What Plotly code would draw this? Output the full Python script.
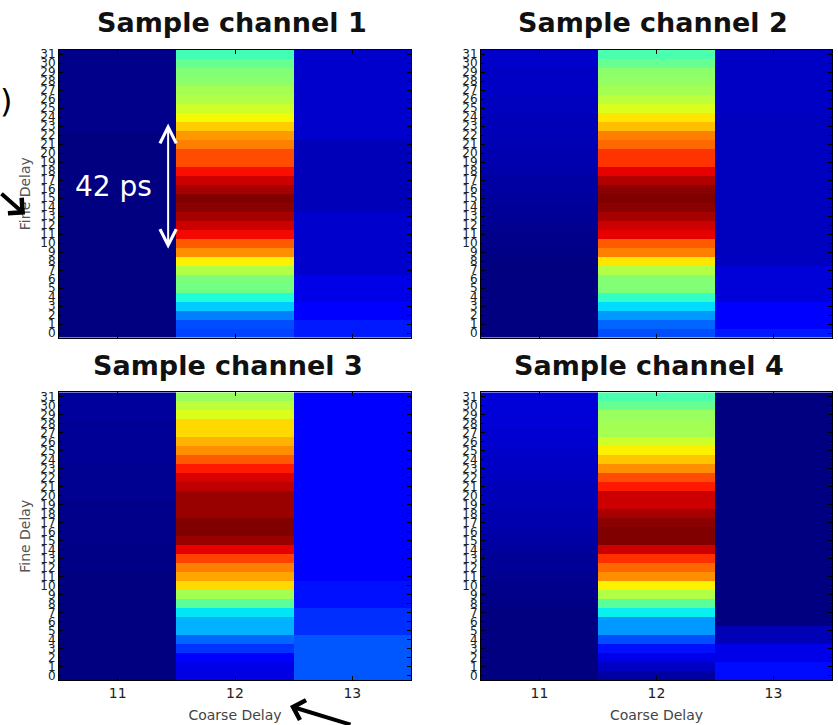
import numpy as np
import plotly.graph_objects as go

W, H = 838, 725

coarse_delay = [11, 12, 13]
fine_delay = list(range(32))

# Normalised hit rate per sample channel, one list per coarse-delay column,
# ordered by fine delay 0 .. 31.
ch1_c11 = [0.00, 0.00, 0.00, 0.00, 0.00, 0.00, 0.00, 0.00, 0.00, 0.00, 0.00, 0.00, 0.00, 0.00, 0.00, 0.00,
           0.00, 0.00, 0.00, 0.00, 0.00, 0.00, 0.00, 0.01, 0.01, 0.01, 0.01, 0.01, 0.01, 0.01, 0.01, 0.01]
ch1_c12 = [0.19, 0.20, 0.25, 0.325, 0.385, 0.49, 0.50, 0.565, 0.655, 0.76, 0.815, 0.90, 0.934, 0.967, 0.99, 1.00,
           0.967, 0.934, 0.895, 0.83, 0.83, 0.775, 0.748, 0.694, 0.645, 0.60, 0.565, 0.55, 0.52, 0.505, 0.475, 0.43]
ch1_c13 = [0.15, 0.15, 0.12, 0.12, 0.09, 0.09, 0.09, 0.066, 0.066, 0.066, 0.066, 0.066, 0.066, 0.066, 0.05, 0.05,
           0.05, 0.05, 0.05, 0.05, 0.05, 0.05, 0.066, 0.066, 0.066, 0.066, 0.066, 0.066, 0.066, 0.066, 0.066, 0.066]

ch2_c11 = [0.00, 0.00, 0.00, 0.00, 0.00, 0.00, 0.00, 0.00, 0.00, 0.005, 0.01, 0.01, 0.015, 0.02, 0.02, 0.025,
           0.03, 0.03, 0.035, 0.04, 0.04, 0.045, 0.045, 0.05, 0.05, 0.055, 0.055, 0.06, 0.06, 0.06, 0.065, 0.065]
ch2_c12 = [0.20, 0.225, 0.275, 0.34, 0.41, 0.505, 0.51, 0.565, 0.667, 0.775, 0.815, 0.912, 0.934, 0.967, 0.99, 1.00,
           0.99, 0.956, 0.912, 0.856, 0.856, 0.80, 0.775, 0.708, 0.667, 0.615, 0.58, 0.55, 0.53, 0.52, 0.475, 0.44]
ch2_c13 = [0.15, 0.12, 0.12, 0.12, 0.077, 0.077, 0.077, 0.077, 0.055, 0.055, 0.055, 0.055, 0.055, 0.055, 0.055, 0.055,
           0.055, 0.055, 0.055, 0.055, 0.055, 0.055, 0.055, 0.055, 0.055, 0.06, 0.06, 0.06, 0.06, 0.06, 0.06, 0.06]

ch3_c11 = [0.00, 0.00, 0.00, 0.00, 0.00, 0.00, 0.00, 0.00, 0.00, 0.00, 0.00, 0.00, 0.005, 0.005, 0.005, 0.01,
           0.01, 0.01, 0.01, 0.01, 0.015, 0.015, 0.015, 0.015, 0.02, 0.02, 0.02, 0.02, 0.02, 0.025, 0.025, 0.025]
ch3_c12 = [0.085, 0.09, 0.12, 0.175, 0.225, 0.30, 0.30, 0.35, 0.46, 0.55, 0.68, 0.735, 0.775, 0.84, 0.912, 0.978,
           1.00, 1.00, 0.978, 0.978, 0.978, 0.945, 0.923, 0.883, 0.815, 0.76, 0.72, 0.68, 0.68, 0.615, 0.58, 0.535]
ch3_c13 = [0.21, 0.21, 0.21, 0.21, 0.21, 0.17, 0.17, 0.17, 0.14, 0.14, 0.14, 0.12, 0.12, 0.12, 0.12, 0.12,
           0.12, 0.12, 0.12, 0.12, 0.12, 0.12, 0.12, 0.12, 0.12, 0.12, 0.12, 0.12, 0.12, 0.12, 0.12, 0.12]

ch4_c11 = [0.00, 0.00, 0.00, 0.00, 0.00, 0.00, 0.00, 0.00, 0.005, 0.01, 0.01, 0.015, 0.02, 0.02, 0.025, 0.03,
           0.035, 0.04, 0.04, 0.045, 0.05, 0.05, 0.055, 0.06, 0.06, 0.065, 0.07, 0.07, 0.075, 0.075, 0.077, 0.077]
ch4_c12 = [0.03, 0.06, 0.09, 0.14, 0.20, 0.275, 0.275, 0.36, 0.46, 0.565, 0.655, 0.76, 0.80, 0.86, 0.934, 1.00,
           1.00, 0.99, 0.967, 0.934, 0.934, 0.883, 0.83, 0.76, 0.70, 0.655, 0.60, 0.55, 0.545, 0.535, 0.475, 0.44]
ch4_c13 = [0.135, 0.135, 0.09, 0.09, 0.045, 0.045, 0.00, 0.00, 0.00, 0.00, 0.00, 0.00, 0.00, 0.00, 0.00, 0.00,
           0.00, 0.00, 0.00, 0.00, 0.00, 0.00, 0.00, 0.00, 0.00, 0.00, 0.00, 0.00, 0.00, 0.00, 0.00, 0.00]

channel_titles = ["Sample channel 1", "Sample channel 2", "Sample channel 3", "Sample channel 4"]
channels = [
    (ch1_c11, ch1_c12, ch1_c13),
    (ch2_c11, ch2_c12, ch2_c13),
    (ch3_c11, ch3_c12, ch3_c13),
    (ch4_c11, ch4_c12, ch4_c13),
]

# matplotlib "jet" colormap, rebuilt from its segment data
_seg = {
    "r": [(0, 0), (0.35, 0), (0.66, 1), (0.89, 1), (1, 0.5)],
    "g": [(0, 0), (0.125, 0), (0.375, 1), (0.64, 1), (0.91, 0), (1, 0)],
    "b": [(0, 0.5), (0.11, 1), (0.34, 1), (0.65, 0), (1, 0)],
}
_pos = np.linspace(0, 1, 101)
_ch = {k: np.interp(_pos, [p[0] for p in v], [p[1] for p in v]) for k, v in _seg.items()}
jet = [[float(p), "rgb(%d,%d,%d)" % (round(r * 255), round(g * 255), round(b * 255))]
       for p, r, g, b in zip(_pos, _ch["r"], _ch["g"], _ch["b"])]


def px_x(x):
    return x / W


def px_y(y):
    return 1 - y / H


# panel plot areas in pixels: (left, right, top, bottom)
boxes = [(59, 411, 48, 338), (481, 832, 48, 338), (59, 411, 393, 683), (481, 832, 393, 683)]

fig = go.Figure()
layout = dict(
    width=W, height=H, autosize=False,
    margin=dict(l=0, r=0, t=0, b=0),
    paper_bgcolor="white", plot_bgcolor="white",
    showlegend=False,
    font=dict(family="DejaVu Sans", color="#222"),
)

for i, (cols, box) in enumerate(zip(channels, boxes)):
    n = i + 1
    xa = "x" if n == 1 else "x%d" % n
    ya = "y" if n == 1 else "y%d" % n
    z = [[cols[0][r], cols[1][r], cols[2][r]] for r in range(32)]
    fig.add_trace(go.Heatmap(
        x=coarse_delay, y=fine_delay, z=z,
        zmin=0, zmax=1, colorscale=jet, showscale=False,
        xaxis=xa, yaxis=ya, hoverinfo="skip",
    ))
    l, r, t, b = box
    bottom_row = n >= 3
    left_col = n in (1, 3)
    xkey = "xaxis" if n == 1 else "xaxis%d" % n
    ykey = "yaxis" if n == 1 else "yaxis%d" % n
    layout[xkey] = dict(
        domain=[px_x(l), px_x(r)], anchor=ya,
        range=[10.5, 13.5], tickvals=coarse_delay,
        ticks="inside", ticklen=4, tickcolor="black",
        showline=True, linecolor="black", linewidth=1, mirror="ticks",
        showgrid=False, zeroline=False,
        showticklabels=bottom_row,
        tickfont=dict(size=14, color="#222"),
        title=dict(text="Coarse Delay" if bottom_row else "",
                   font=dict(size=14, color="#444"), standoff=10),
    )
    layout[ykey] = dict(
        domain=[px_y(b), px_y(t)], anchor=xa,
        range=[-0.5, 31.5], tickvals=fine_delay,
        ticks="inside", ticklen=4, tickcolor="black",
        showline=True, linecolor="black", linewidth=1, mirror="ticks",
        showgrid=False, zeroline=False,
        tickfont=dict(size=12, color="#222"),
        title=dict(text="Fine Delay" if left_col else "",
                   font=dict(size=14, color="#555"), standoff=6),
    )

fig.update_layout(**layout)

annotations = []
title_pos = [(232, 21), (653, 21), (228, 366), (649, 366)]
for text, (tx, ty) in zip(channel_titles, title_pos):
    annotations.append(dict(
        text="<b>%s</b>" % text, x=px_x(tx), y=px_y(ty), xref="paper", yref="paper",
        xanchor="center", yanchor="middle", showarrow=False,
        font=dict(family="DejaVu Sans", size=27, color="#111"),
    ))

# 42 ps span marker inside channel 1
annotations.append(dict(
    x=11.43, y=23.3, ax=11.43, ay=9.2, xref="x", yref="y", axref="x", ayref="y",
    text="", showarrow=True, arrowside="end+start", arrowhead=5, startarrowhead=5,
    arrowsize=1.6, startarrowsize=1.6, arrowwidth=2, arrowcolor="white", standoff=0, startstandoff=0,
))
annotations.append(dict(
    text="42 ps", x=px_x(113), y=px_y(186), xref="paper", yref="paper",
    xanchor="center", yanchor="middle", showarrow=False,
    font=dict(family="DejaVu Sans", size=28, color="white"),
))

# pointers towards the axis titles
annotations.append(dict(
    x=px_x(25), y=px_y(214), xref="paper", yref="paper", ax=-40, ay=-22,
    text="", showarrow=True, arrowhead=4, arrowsize=1.0, arrowwidth=4, arrowcolor="black", standoff=0,
))
annotations.append(dict(
    x=px_x(290), y=px_y(709), xref="paper", yref="paper", ax=62, ay=24,
    text="", showarrow=True, arrowhead=4, arrowsize=1.0, arrowwidth=4, arrowcolor="black", standoff=0,
))
annotations.append(dict(
    text=")", x=px_x(-2), y=px_y(100), xref="paper", yref="paper",
    xanchor="left", yanchor="middle", showarrow=False,
    font=dict(family="DejaVu Sans", size=32, color="black"),
))

fig.update_layout(annotations=annotations)
fig.write_html("out.html")
